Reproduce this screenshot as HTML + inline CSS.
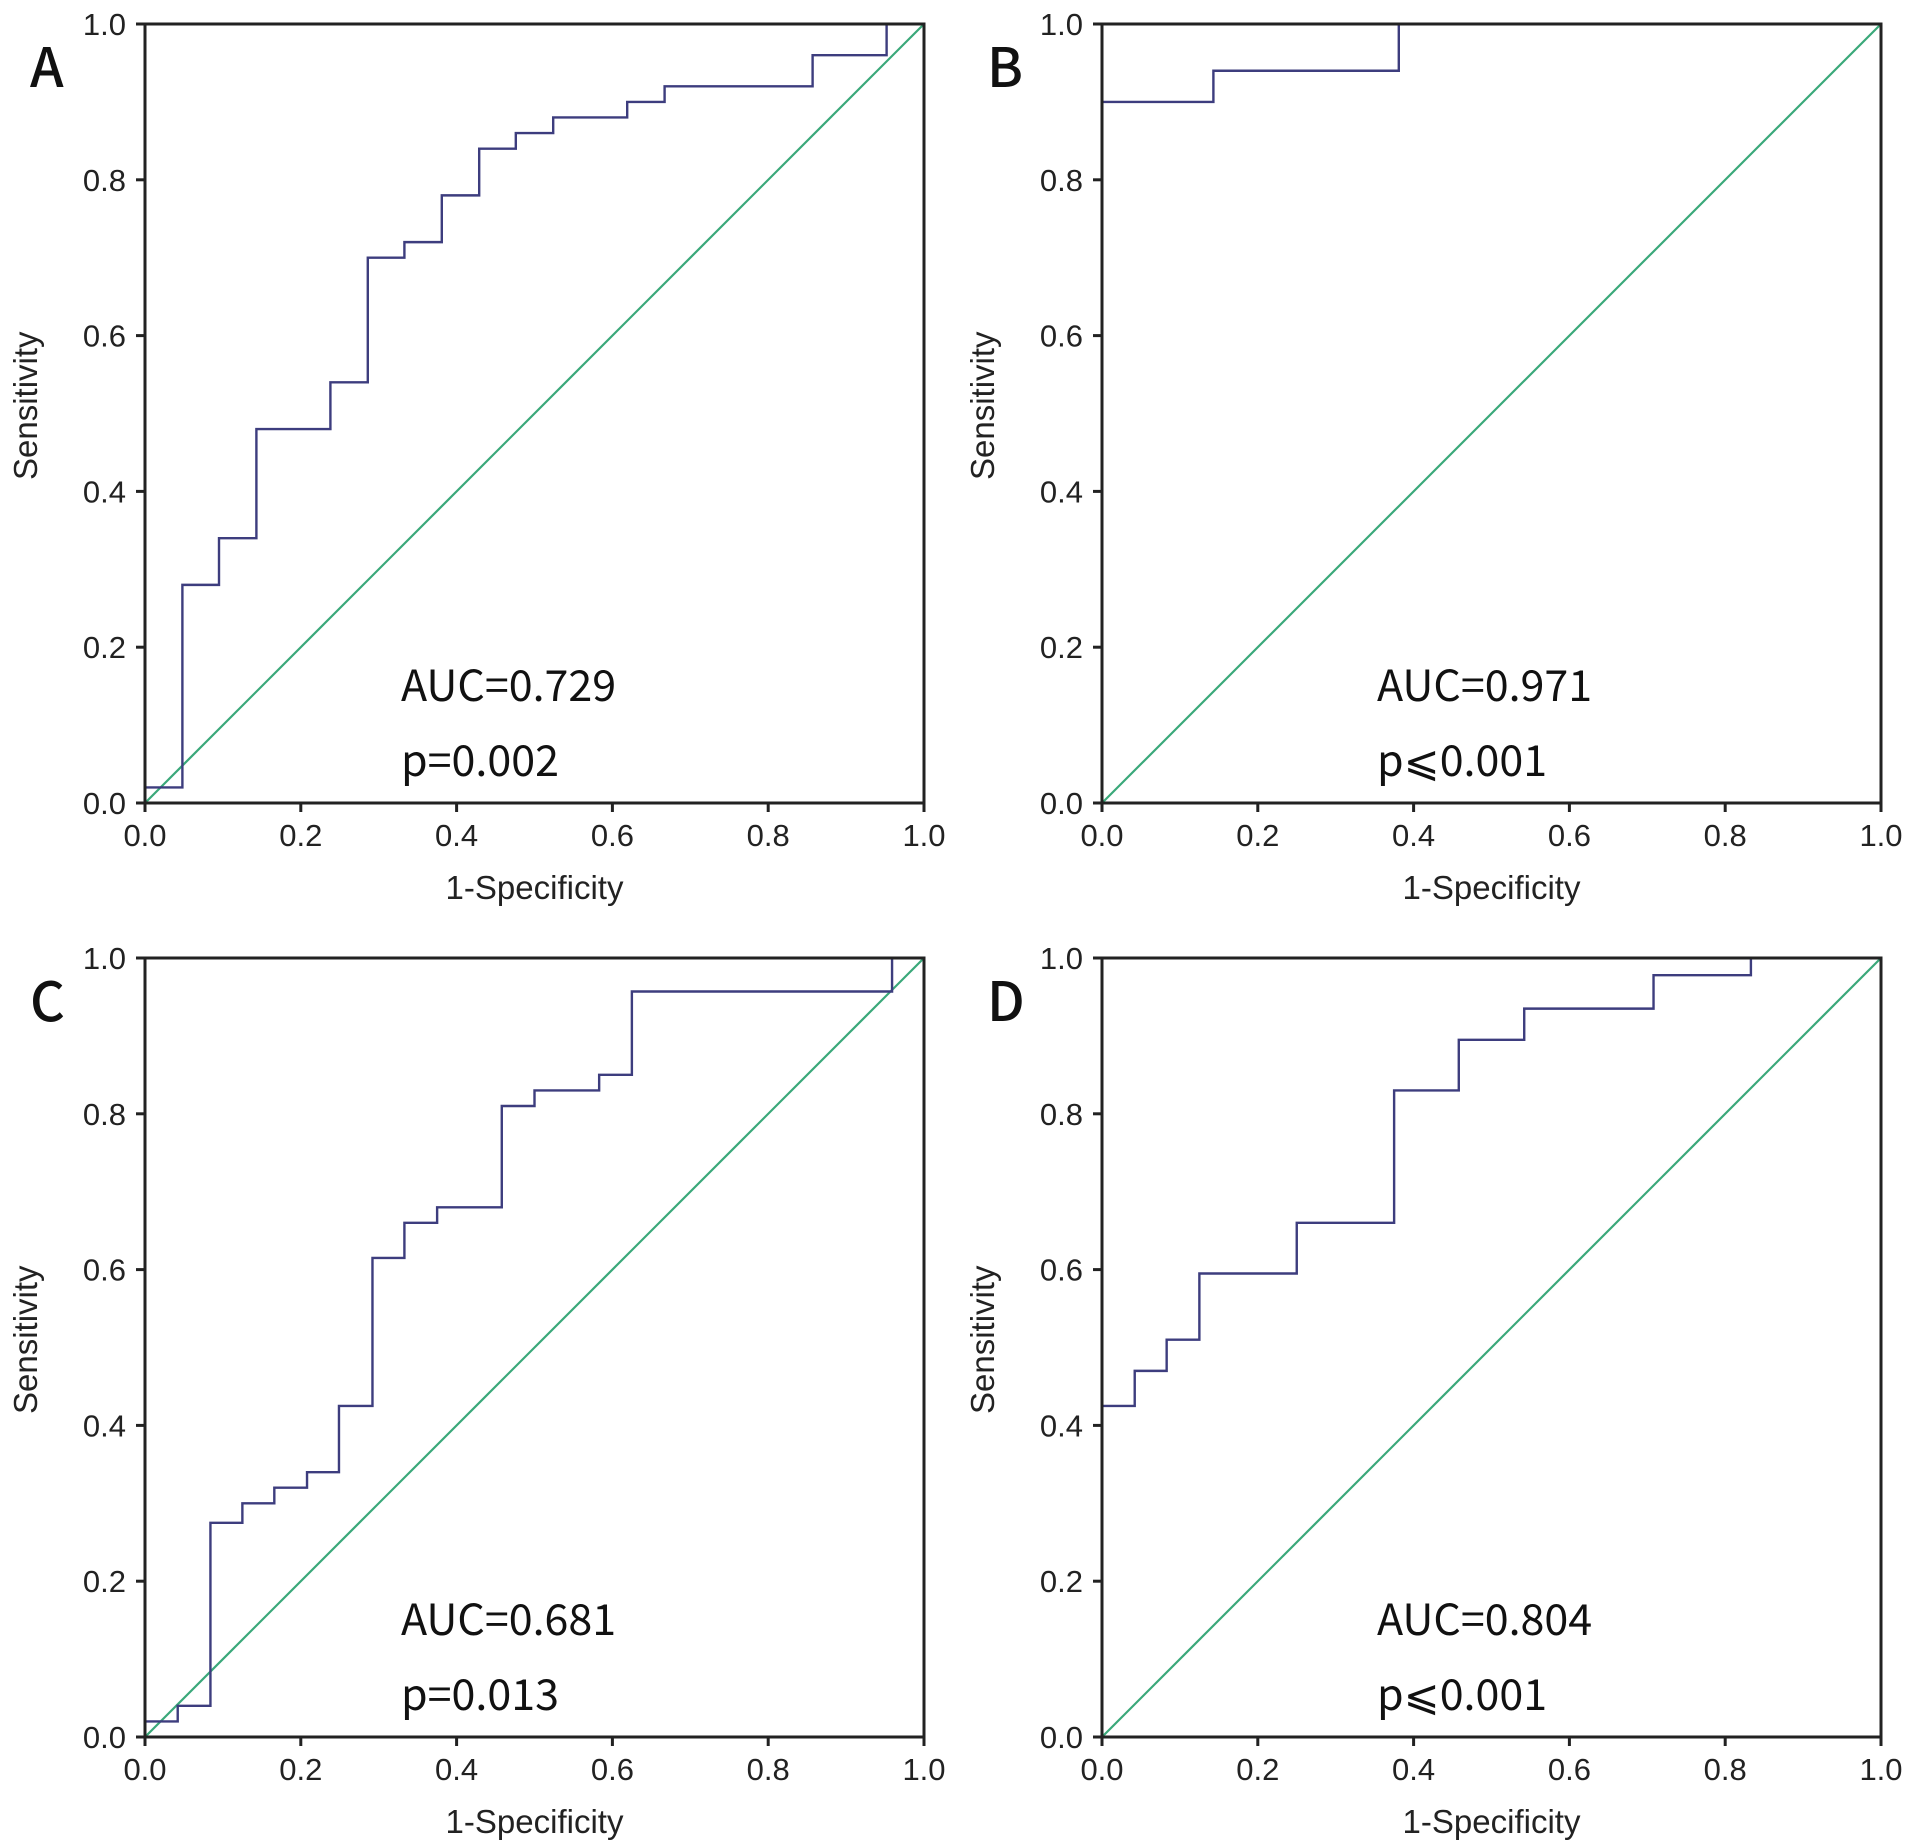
<!DOCTYPE html>
<html><head><meta charset="utf-8">
<style>
html,body{margin:0;padding:0;background:#fff;}
svg{display:block;}
.tk{font-family:"Liberation Sans",sans-serif;font-size:31px;fill:#222;}
.tt{font-family:"Liberation Sans",sans-serif;font-size:33px;fill:#222;}
.an{font-family:"Noto Sans CJK SC","Liberation Sans",sans-serif;font-size:43px;fill:#111;}
.pl{font-family:"Noto Sans CJK SC","Liberation Sans",sans-serif;font-size:54px;font-weight:500;fill:#111;}
</style></head>
<body>
<svg id="fig" width="1913" height="1842" viewBox="0 0 1913 1842" xmlns="http://www.w3.org/2000/svg"></svg>
<script>
const ticks=[0,0.2,0.4,0.6,0.8,1.0];
const tickLabels=["0.0","0.2","0.4","0.6","0.8","1.0"];
const panelLetters=["A","B","C","D"];
const aucLabels=["AUC=0.729","AUC=0.971","AUC=0.681","AUC=0.804"];
const pLabels=["p=0.002","p\u2a7d0.001","p=0.013","p\u2a7d0.001"];
const fprA=[0,0.048,0.095,0.143,0.238,0.286,0.333,0.381,0.429,0.476,0.524,0.619,0.667,0.857,0.952,1];
const tprA=[0.02,0.28,0.34,0.48,0.54,0.70,0.72,0.78,0.84,0.86,0.88,0.90,0.92,0.96,1.0,1.0];
const fprB=[0,0.143,0.381,1];
const tprB=[0.90,0.94,1.0,1.0];
const fprC=[0,0.042,0.084,0.125,0.166,0.208,0.249,0.292,0.333,0.375,0.458,0.5,0.583,0.625,0.959,1];
const tprC=[0.02,0.04,0.275,0.30,0.32,0.34,0.425,0.615,0.66,0.68,0.81,0.83,0.85,0.957,1.0,1.0];
const fprD=[0,0.042,0.083,0.125,0.25,0.375,0.458,0.542,0.708,0.833,1];
const tprD=[0.425,0.47,0.51,0.595,0.66,0.83,0.895,0.935,0.978,1.0,1.0];
const fprs=[fprA,fprB,fprC,fprD];
const tprs=[tprA,tprB,tprC,tprD];

const NS="http://www.w3.org/2000/svg";
const svg=document.getElementById('fig');
function mk(tag,attrs,parent){const e=document.createElementNS(NS,tag);for(const k in attrs)e.setAttribute(k,attrs[k]);parent.appendChild(e);return e;}
const boxes=[[145,24],[1102,24],[145,958],[1102,958]];
const annX=[256,275,256,275];
const W=779,H=779;
for(let p=0;p<4;p++){
  const L=boxes[p][0],T=boxes[p][1],B=T+H,R=L+W;
  const sx=v=>L+v*W, sy=v=>B-v*H;
  const g=mk('g',{},svg);
  
  
  const dg=mk('line',{x1:sx(0),y1:sy(0),x2:sx(1),y2:sy(1),stroke:'#3aa87a','stroke-width':2.2},g);
  
  
  let d='M'+sx(0)+','+sy(0);
  const fx=fprs[p],ty=tprs[p];
  for(let i=0;i<fx.length;i++){d+=' H'+sx(fx[i])+' V'+sy(ty[i]);}
  const rc=mk('path',{d:d,fill:'none',stroke:'#3d3d7e','stroke-width':2.4},g);
  
  
  const fr=mk('rect',{x:L,y:T,width:W,height:H,fill:'none',stroke:'#222','stroke-width':3},g);
  
  
  for(let i=0;i<ticks.length;i++){
    mk('line',{x1:sx(ticks[i]),y1:B,x2:sx(ticks[i]),y2:B+9,stroke:'#222','stroke-width':3},g);
    mk('line',{x1:L-9,y1:sy(ticks[i]),x2:L,y2:sy(ticks[i]),stroke:'#222','stroke-width':3},g);
    const xl=mk('text',{x:sx(ticks[i]),y:B+43,'text-anchor':'middle',class:'tk'},g);
    xl.textContent=tickLabels[i];
    
    
    const yl=mk('text',{x:L-19,y:sy(ticks[i])+11,'text-anchor':'end',class:'tk'},g);
    yl.textContent=tickLabels[i];
    
    
  }
  const xt=mk('text',{x:L+W*0.5,y:B+96,'text-anchor':'middle',class:'tt'},g);
  xt.textContent='1-Specificity';
  
  
  const cy=T+H*0.49;
  const yt=mk('text',{x:L-108,y:cy,'text-anchor':'middle',class:'tt',transform:'rotate(-90 '+(L-108)+' '+cy+')'},g);
  yt.textContent='Sensitivity';
  
  
  const pl=mk('text',{x:L-115,y:T+63,class:'pl'},g);
  pl.textContent=panelLetters[p];
  
  
  const au=mk('text',{x:L+annX[p],y:T+677,class:'an'},g);
  au.textContent=aucLabels[p];
  
  
  const pv=mk('text',{x:L+annX[p],y:T+752,class:'an'},g);
  pv.textContent=pLabels[p];
  
  
}
</script>
</body></html>
